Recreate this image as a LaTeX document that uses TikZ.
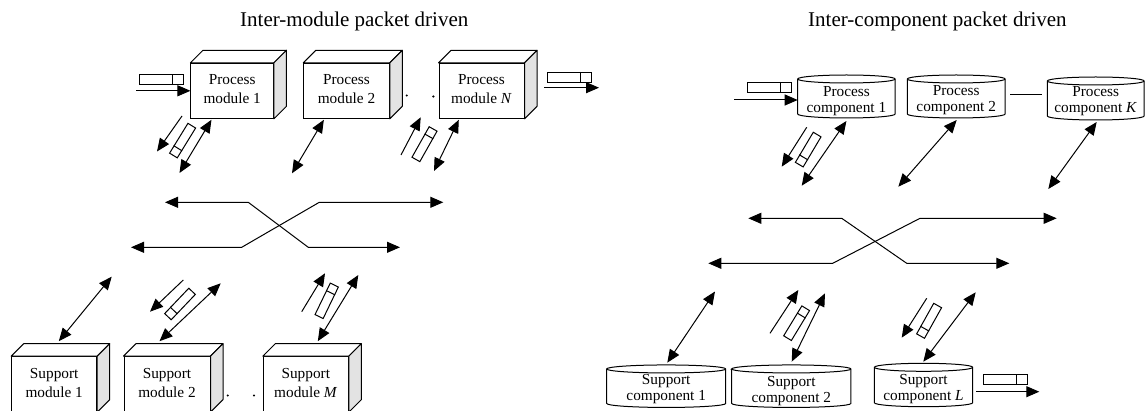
\documentclass[tikz,border=0pt]{standalone}
\usepackage{fontspec}
\setmainfont{Liberation Serif}
\usetikzlibrary{arrows.meta,calc}

\tikzset{
  wire/.style={line width=1pt},
  oneway/.style={wire,-{Triangle[length=13pt,width=11pt]}},
  twoway/.style={wire,{Triangle[length=13pt,width=11pt]}-{Triangle[length=13pt,width=11pt]}},
  front/.style={draw,line width=1pt,fill=white,inner sep=0pt,minimum height=55pt},
  cylcore/.style={inner sep=0pt,outer sep=0pt},
  boxtext/.style={align=center,inner sep=0pt,font=\fontsize{15.3}{19}\selectfont},
  cyltext/.style={align=center,inner sep=0pt,font=\fontsize{15.3}{16}\selectfont},
  headline/.style={inner sep=0pt,font=\fontsize{21}{24}\selectfont},
  hpacket/.style={draw,line width=1pt,fill=white,inner sep=0pt,minimum width=44pt,minimum height=10pt},
  dpacket/.style={draw,line width=1pt,fill=white,inner sep=0pt,minimum width=35pt,minimum height=9pt},
  dotmark/.style={circle,fill,inner sep=0pt,minimum size=2.4pt},
}

% top and side faces of a box whose front face is node #1
\newcommand\cubefaces[1]{%
  \draw[line width=1pt,fill=white,line join=round]
    (#1.north west) -- ([shift={(12.5pt,12.5pt)}]#1.north west)
    -- ([shift={(12.5pt,12.5pt)}]#1.north east) -- (#1.north east) -- cycle;
  \draw[line width=1pt,fill=gray!22,line join=round]
    (#1.north east) -- ([shift={(12.5pt,12.5pt)}]#1.north east)
    -- ([shift={(12.5pt,12.5pt)}]#1.south east) -- (#1.south east) -- cycle;}

% outline of an upright cylinder around node #1, with x radius #2
\newcommand\cylfaces[2]{%
  \draw[line width=1pt,fill=white]
    (#1.north west) -- (#1.south west)
    arc[start angle=180,end angle=360,x radius=#2pt,y radius=4pt]
    -- (#1.north east)
    arc[start angle=0,end angle=180,x radius=#2pt,y radius=4pt] -- cycle;
  \draw[line width=1pt] (#1.north west)
    arc[start angle=180,end angle=360,x radius=#2pt,y radius=4pt];}

% divider near the leading end of a packet
\newcommand\packetbar[1]{%
  \draw[line width=1pt] ($(#1.north east)!0.25!(#1.north west)$)
    -- ($(#1.south east)!0.25!(#1.south west)$);}

\begin{document}
\begin{tikzpicture}[x=1pt,y=-1pt]
\useasboundingbox (0,0) rectangle (1147,411);

% ---------------- titles ----------------
\node[headline,anchor=base west] (t1) at (240,26.5) {Inter-module packet driven};
\node[headline,anchor=base west] (t2) at (808,26.5) {Inter-component packet driven};

% ================= inter-module side =================
% process modules
\node[front,minimum width=82.5pt] (pm1) at (232.2,90.8) {};
\node[front,minimum width=85.5pt] (pm2) at (346.5,90.8) {};
\node[front,minimum width=85pt]   (pmn) at (481.5,90.8) {};
\cubefaces{pm1}\cubefaces{pm2}\cubefaces{pmn}
\node[boxtext] (pm1t) at (232.2,88.8) {Process\\module 1};
\node[boxtext] (pm2t) at (346.5,88.8) {Process\\module 2};
\node[boxtext] (pmnt) at (481.5,88.8) {Process\\module \textit{N}};
\node[dotmark] (dA) at (406.7,95.5) {};
\node[dotmark] (dB) at (433.3,96.5) {};

% support modules
\node[front,minimum width=85pt] (sm1) at (54.2,384.2) {};
\node[front,minimum width=86pt] (sm2) at (167,384.2) {};
\node[front,minimum width=85pt] (smm) at (305.8,384.2) {};
\cubefaces{sm1}\cubefaces{sm2}\cubefaces{smm}
\node[boxtext] (sm1t) at (54.2,383.4) {Support\\module 1};
\node[boxtext] (sm2t) at (167,383.4) {Support\\module 2};
\node[boxtext] (smmt) at (305.8,383.4) {Support\\module \textit{M}};
\node[dotmark] (dC) at (227.7,395.5) {};
\node[dotmark] (dD) at (254,395.5) {};

% packets entering and leaving
\coordinate (inA) at (136,90.8);
\draw[oneway] (inA) -- (pm1.west);
\node[hpacket] (pk1) at (161.2,80) {};
\packetbar{pk1}
\coordinate (outA1) at (544,87.7);
\coordinate (outA2) at (599,87.7);
\draw[oneway] (outA1) -- (outA2);
\node[hpacket] (pk4) at (569.7,77.3) {};
\packetbar{pk4}

% links from process modules
\coordinate (a1) at (179.5,173);
\draw[twoway] ([xshift=21pt,yshift=-1pt]pm1.south west) -- (a1);
\coordinate (b1s) at (182,116);
\coordinate (b1e) at (157,151.5);
\draw[oneway] (b1s) -- (b1e);
\node[dpacket,rotate=-121.6] (pk2) at (182.6,140.6) {};
\packetbar{pk2}

\coordinate (a2) at (292,173.3);
\draw[twoway] ([xshift=20.6pt,yshift=-1pt]pm2.south west) -- (a2);

\coordinate (a3) at (434,171);
\draw[twoway] ([xshift=20.3pt,yshift=-1pt]pmn.south west) -- (a3);
\coordinate (b3s) at (401,155);
\coordinate (b3e) at (420.7,117.3);
\draw[oneway] (b3s) -- (b3e);
\node[dpacket,rotate=60.6] (pk3) at (424.5,144.2) {};
\packetbar{pk3}

% crossing bus
\coordinate (ua) at (165,202.3);
\coordinate (ub) at (248.3,202.3);
\coordinate (uc) at (308.3,247.3);
\coordinate (ud) at (400,247.3);
\draw[twoway,line join=round] (ua) -- (ub) -- (uc) -- (ud);
\coordinate (la) at (131,247.3);
\coordinate (lb) at (241.7,247.3);
\coordinate (lc) at (319.3,202.3);
\coordinate (ld) at (443.3,202.3);
\draw[twoway,line join=round] (la) -- (lb) -- (lc) -- (ld);

% links from support modules
\coordinate (s1) at (111.7,276.7);
\draw[twoway] ([xshift=47.6pt,yshift=15pt]sm1.north west) -- (s1);

\coordinate (s2) at (220.7,283.3);
\draw[twoway] ([xshift=36pt,yshift=15pt]sm2.north west) -- (s2);
\coordinate (e2s) at (183.3,280);
\coordinate (e2e) at (150,311.7);
\draw[oneway] (e2s) -- (e2e);
\node[dpacket,rotate=-133.6] (pk5) at (180,304) {};
\packetbar{pk5}

\coordinate (s3) at (358.3,275);
\draw[twoway] ([xshift=55pt,yshift=15pt]smm.north west) -- (s3);
\coordinate (e3s) at (301.7,311.7);
\coordinate (e3e) at (325,273.3);
\draw[oneway] (e3s) -- (e3e);
\node[dpacket,rotate=64.2] (pk6) at (326.7,300.8) {};
\packetbar{pk6}

% ================= inter-component side =================
% process components
\node[cylcore,minimum width=97.4pt,minimum height=35pt] (pc1) at (846.4,96.5) {};
\node[cylcore,minimum width=97.8pt,minimum height=35pt] (pc2) at (956.2,96.5) {};
\node[cylcore,minimum width=96.8pt,minimum height=35pt] (pck) at (1095.7,98.5) {};
\cylfaces{pc1}{48.7}\cylfaces{pc2}{48.9}\cylfaces{pck}{48.4}
\node[cyltext] (pc1t) at (846.4,101) {Process\\component 1};
\node[cyltext] (pc2t) at (956.2,100.5) {Process\\component 2};
\node[cyltext] (pckt) at (1095.7,101) {Process\\component \textit{K}};
\draw[wire] ([xshift=5pt]pc2.east |- 0,95) -- ([xshift=-5.5pt]pck.west |- 0,95);

% support components
\node[cylcore,minimum width=119pt,minimum height=34.5pt] (sc1) at (666.2,386.2) {};
\node[cylcore,minimum width=119.2pt,minimum height=34.5pt] (sc2) at (791.3,386.2) {};
\node[cylcore,minimum width=98.4pt,minimum height=35.4pt] (scl) at (923.5,385) {};
\cylfaces{sc1}{59.5}\cylfaces{sc2}{59.6}\cylfaces{scl}{49.2}
\node[cyltext] (sc1t) at (666.2,389.3) {Support\\component 1};
\node[cyltext] (sc2t) at (791.3,391) {Support\\component 2};
\node[cyltext] (sclt) at (923.5,388.6) {Support\\component \textit{L}};

% packets entering and leaving
\coordinate (inC) at (734.3,100);
\draw[oneway] (inC) -- (inC -| pc1.west);
\node[hpacket] (pk7) at (769.7,87.5) {};
\packetbar{pk7}
\coordinate (outC) at (1039.3,391.7);
\draw[oneway] ([xshift=3.3pt]scl.east |- outC) -- (outC);
\node[hpacket] (pk11) at (1005,379.7) {};
\packetbar{pk11}

% links from process components
\coordinate (c1) at (801.7,185.7);
\draw[twoway] ([yshift=-7pt]pc1.south) -- (c1);
\coordinate (f1s) at (806.7,127.3);
\coordinate (f1e) at (781.7,166.7);
\draw[oneway] (f1s) -- (f1e);
\node[dpacket,rotate=-120.7] (pk8) at (808.2,149.6) {};
\packetbar{pk8}

\coordinate (c2) at (898.3,186.7);
\draw[twoway] ([xshift=0.5pt,yshift=-6pt]pc2.south) -- (c2);
\coordinate (c3) at (1048.3,189);
\draw[twoway] ([xshift=1pt,yshift=-6pt]pck.south) -- (c3);

% crossing bus
\coordinate (ra) at (748.3,218.3);
\coordinate (rb) at (841.7,218.3);
\coordinate (rc) at (906.7,263.3);
\coordinate (rd) at (1009.3,263.3);
\draw[twoway,line join=round] (ra) -- (rb) -- (rc) -- (rd);
\coordinate (qa) at (708.3,263.3);
\coordinate (qb) at (832.7,263.3);
\coordinate (qc) at (920,218.3);
\coordinate (qd) at (1056.7,218.3);
\draw[twoway,line join=round] (qa) -- (qb) -- (qc) -- (qd);

% links from support components
\coordinate (g1) at (715,291.5);
\draw[twoway] ([xshift=1.1pt,yshift=6.3pt]sc1.north) -- (g1);
\coordinate (g2) at (825,293.3);
\draw[twoway] ([xshift=0.4pt,yshift=7.3pt]sc2.north) -- (g2);
\coordinate (h2s) at (770,333.3);
\coordinate (h2e) at (798.3,290);
\draw[oneway] (h2s) -- (h2e);
\node[dpacket,rotate=58.7] (pk9) at (796.6,323.2) {};
\packetbar{pk9}
\coordinate (g3) at (975.7,292.3);
\draw[twoway] ([xshift=-0.2pt,yshift=5.6pt]scl.north) -- (g3);
\coordinate (h3s) at (926.7,298.3);
\coordinate (h3e) at (901.7,337.7);
\draw[oneway] (h3s) -- (h3e);
\node[dpacket,rotate=-119.2] (pk10) at (929.1,320.8) {};
\packetbar{pk10}
\end{tikzpicture}
\end{document}
